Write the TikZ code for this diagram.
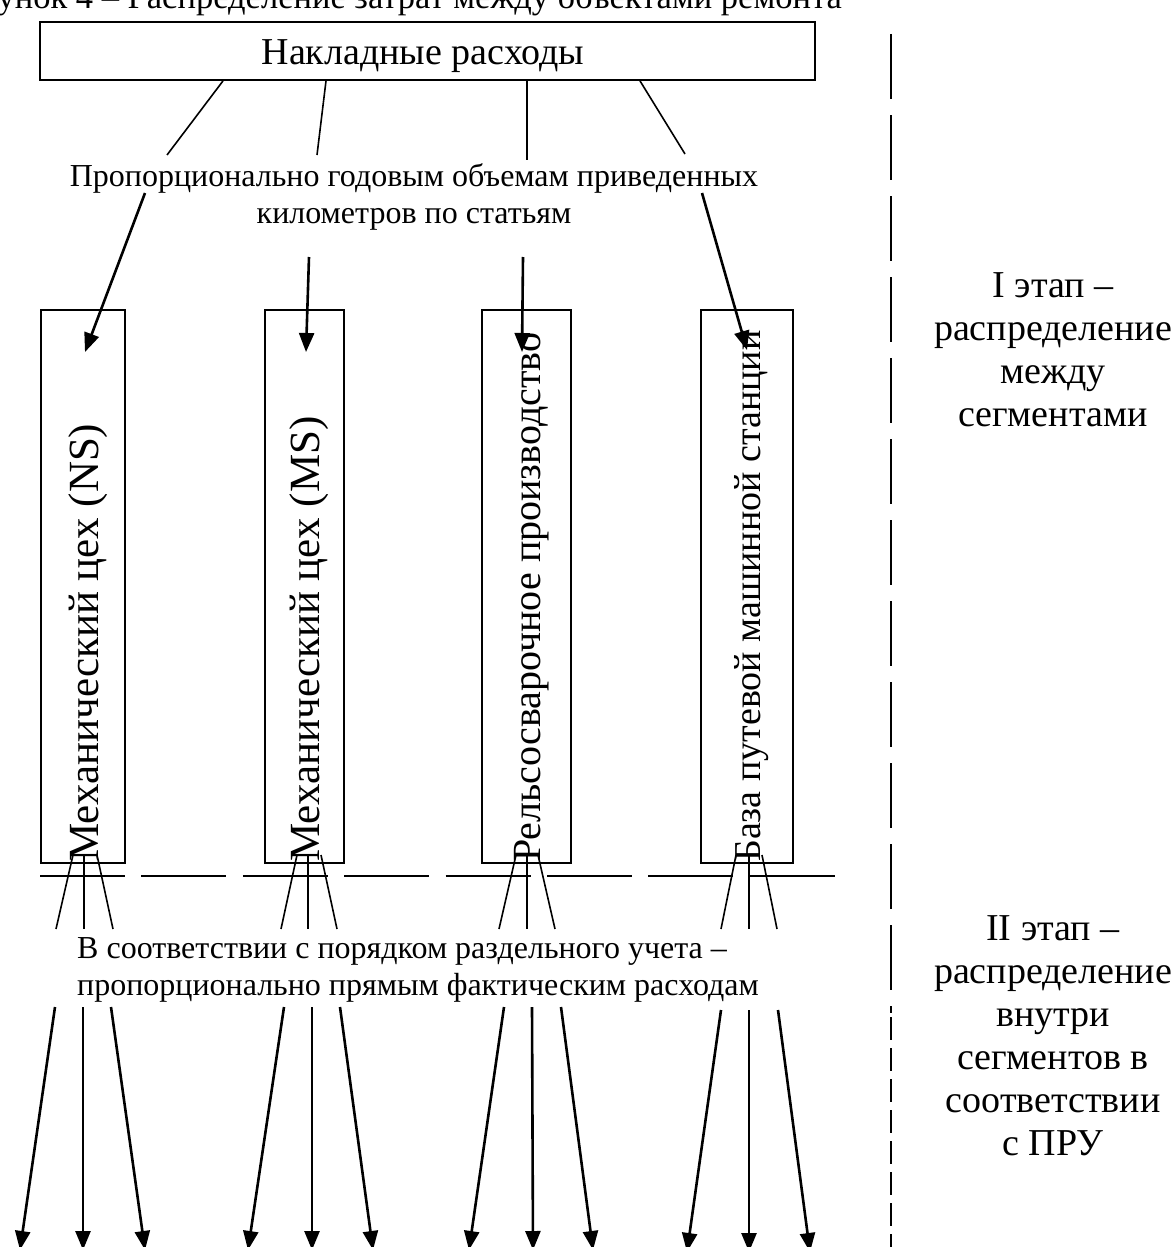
\documentclass[tikz,border=0pt]{standalone}
\usepackage{fontspec}
\setmainfont{Liberation Serif}
\usetikzlibrary{arrows.meta}
\begin{document}
\begin{tikzpicture}[x=1pt,y=-1pt,
  thinline/.style={line width=1.6pt},
  arr/.style={line width=2.6pt,-{Triangle[width=15pt,length=19pt]}},
  boxstyle/.style={draw,line width=1.8pt,inner sep=0pt},
  lbl/.style={font=\fontsize{32}{37}\selectfont,inner sep=0pt},
  vtxt/.style={rotate=90,anchor=base west,inner sep=0pt},
  stage/.style={font=\fontsize{38}{43}\selectfont,align=center,inner sep=0pt},
  dashh/.style={line width=1.8pt,dash pattern=on 85pt off 16.4pt},
  dashv/.style={line width=2pt,dash pattern=on 65pt off 16pt},
  dashvs/.style={line width=2pt,dash pattern=on 23pt off 8pt},
]
\useasboundingbox (0,0) rectangle (1174,1247);
\clip (0,0) rectangle (1174,1247);

% caption (cut off at the top edge)
\node[font=\fontsize{34.5}{40}\selectfont,anchor=base east,inner sep=0pt] (cap) at (842,9)
  {Рисунок 4 – Распределение затрат между объектами ремонта};

% top box
\node[boxstyle,minimum width=775pt,minimum height=58pt] (top) at (427.5,51) {};
\node[font=\fontsize{38}{44}\selectfont,anchor=base,inner sep=0pt] (toptxt) at (423,64) {Накладные расходы};

% label under top box
\node[lbl,align=center,anchor=north] (prop) at (414,163)
  {Пропорционально годовым объемам приведенных\\километров по статьям};

% segment boxes
\node[boxstyle,minimum width=84pt,minimum height=553pt] (b1) at (83,586.5) {};
\node[boxstyle,minimum width=79pt,minimum height=553pt] (b2) at (304.5,586.5) {};
\node[boxstyle,minimum width=89pt,minimum height=553pt] (b3) at (526.5,586.5) {};
\node[boxstyle,minimum width=92pt,minimum height=553pt] (b4) at (747,586.5) {};

\node[vtxt,font=\fontsize{43}{50}\selectfont] (t1) at (98,862) {Механический цех (NS)};
\node[vtxt,font=\fontsize{43}{50}\selectfont] (t2) at (319,862) {Механический цех (MS)};
\node[vtxt,font=\fontsize{40}{46}\selectfont] (t3) at (540,862) {Рельсосварочное производство};
\node[vtxt,font=\fontsize{38}{44}\selectfont] (t4) at (760,862) {База путевой машинной станции};

% lines from top box to label
\coordinate (e1) at (167,155);
\coordinate (e2) at (317,155);
\coordinate (e3) at (527,160);
\coordinate (e4) at (685,154);
\draw[thinline] (top.south west -| 223,0) -- (e1);
\draw[thinline] (top.south west -| 326,0) -- (e2);
\draw[thinline] (top.south west -| 527,0) -- (e3);
\draw[thinline] (top.south west -| 640,0) -- (e4);

% arrows from label to boxes
\coordinate (s1) at (145,193);
\coordinate (s2) at (309,257);
\coordinate (s3) at (523,257);
\coordinate (s4) at (702,193);
\coordinate (p1) at (85,352);
\coordinate (p2) at (306,352);
\coordinate (p3) at (522,352);
\coordinate (p4) at (747,350);
\draw[arr] (s1) -- (p1);
\draw[arr] (s2) -- (p2);
\draw[arr] (s3) -- (p3);
\draw[arr] (s4) -- (p4);

% dashed separators
\draw[dashh] (40,876) coordinate (hl) -- (835,876) coordinate (hr);
\draw[dashv] (891,34) coordinate (va) -- (891,1013) coordinate (vb);
\draw[dashvs] (891,1017) coordinate (vc) -- (891,1247) coordinate (vd);

% fan lines below boxes
\foreach \n/\a/\b/\c/\A/\B/\C in {1/73/84/97/56/84/113, 2/297/308/321/281/308/337,
    3/516/527/538/499/527/555, 4/736/749/762/721/749/777}{
  \coordinate (fa\n) at (\a,855); \coordinate (fb\n) at (\b,855); \coordinate (fc\n) at (\c,855);
  \coordinate (ga\n) at (\A,929); \coordinate (gb\n) at (\B,929); \coordinate (gc\n) at (\C,929);
  \draw[thinline] (fa\n) -- (ga\n);
  \draw[thinline] (fb\n) -- (gb\n);
  \draw[thinline] (fc\n) -- (gc\n);
}

% second label
\node[lbl,align=left,anchor=north west] (accord) at (77,937)
  {В соответствии с порядком раздельного учета –\\пропорционально прямым фактическим расходам};

% lower arrows
\foreach \n/\a/\b/\c/\A/\B/\C/\y/\Y in {1/55/83/111/20/83/145/1007/1250, 2/284/312/340/248/312/373/1007/1250,
    3/504/532/561/469/533/593/1007/1250, 4/721/749/778/687/749/810/1010/1252}{
  \coordinate (ha\n) at (\a,\y); \coordinate (hb\n) at (\b,\y); \coordinate (hc\n) at (\c,\y);
  \coordinate (ka\n) at (\A,\Y); \coordinate (kb\n) at (\B,\Y); \coordinate (kc\n) at (\C,\Y);
  \draw[arr] (ha\n) -- (ka\n);
  \draw[arr] (hb\n) -- (kb\n);
  \draw[arr] (hc\n) -- (kc\n);
}

% stage labels
\node[stage,anchor=north] (st1) at (1053,272) {I этап –\\распределение\\между\\сегментами};
\node[stage,anchor=north] (st2) at (1053,915) {II этап –\\распределение\\внутри\\сегментов в\\соответствии\\с ПРУ};
\end{tikzpicture}
\end{document}
